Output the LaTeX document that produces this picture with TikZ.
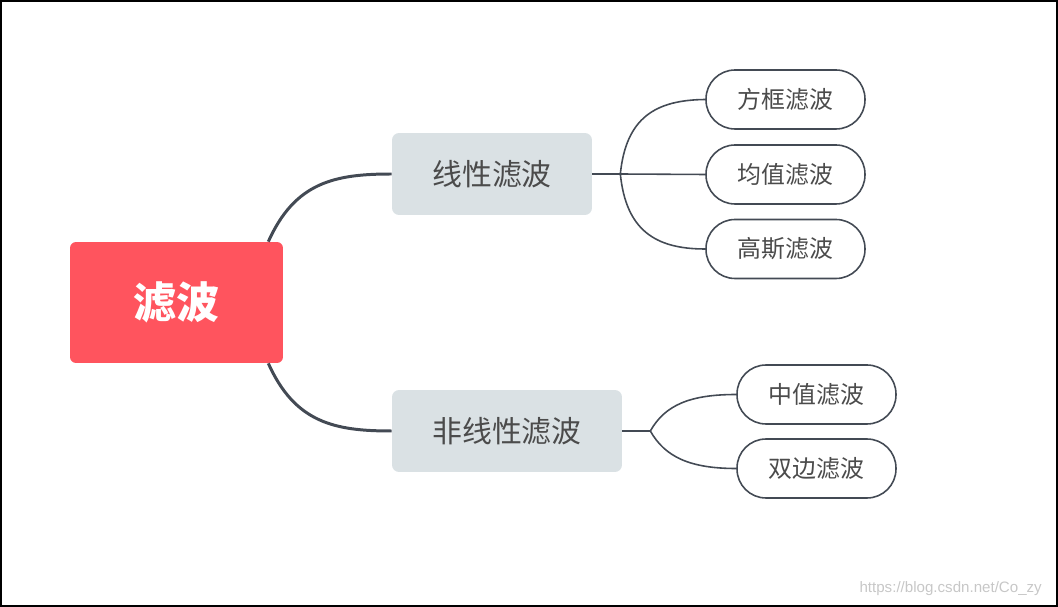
\documentclass[tikz,border=0pt]{standalone}
\usepackage{fontspec}
\usepackage{tikz}
\usetikzlibrary{calc}
\newfontfamily\cjk{Noto Sans CJK SC}
\newfontfamily\wmfont{Liberation Sans}
\definecolor{rootRed}{RGB}{255,84,94}
\definecolor{branchGray}{RGB}{218,225,228}
\definecolor{linkGray}{RGB}{67,74,84}
\definecolor{textGray}{RGB}{75,75,75}

\begin{document}
\begin{tikzpicture}[x=0.02cm,y=-0.02cm,%%
  rootStyle/.style={fill=rootRed,rounded corners=0.12cm,minimum width=4.26cm,
    minimum height=2.42cm,text=white,font=\cjk\bfseries\fontsize{24.5}{28}\selectfont},%%
  branchStyle/.style={fill=branchGray,rounded corners=0.14cm,minimum height=1.64cm,
    text=textGray,font=\cjk\fontsize{17}{20}\selectfont},%%
  leafStyle/.style={draw=linkGray,line width=0.9pt,fill=white,rounded corners=0.58cm,
    minimum width=3.18cm,minimum height=1.18cm,text=textGray,
    font=\cjk\fontsize{13.6}{16}\selectfont},%%
  thickLink/.style={draw=linkGray,line width=1.7pt},%%
  thinLink/.style={draw=linkGray,line width=0.9pt}%%
]
%%
%% Page and frame.
\useasboundingbox (0,0) rectangle (1058,607);
\draw[line width=1.1pt] (1,1) rectangle (1057,606);
%%
%% The root.
\node[rootStyle] (root) at (176.5,302.5) {滤波};
%%
%% The two branches.
\node[branchStyle,minimum width=4cm] (linear) at (492,174) {线性滤波};
\node[branchStyle,minimum width=4.6cm] (nonlinear) at (507,431) {非线性滤波};
%%
%% Leaves of the linear branch.
\node[leafStyle] (box) at (785.5,99.5) {方框滤波};
\node[leafStyle] (mean) at (785.5,174.5) {均值滤波};
\node[leafStyle] (gauss) at (785.5,249) {高斯滤波};
%%
%% Leaves of the nonlinear branch.
\node[leafStyle] (median) at (816.5,394.5) {中值滤波};
\node[leafStyle] (bilateral) at (816.5,468.5) {双边滤波};
%%
%% Root to branches.
\coordinate (rootTop) at ($(root.north east)+(-15,0)$);
\coordinate (rootBottom) at ($(root.south east)+(-15,0)$);
\draw[thickLink] (rootTop) .. controls (295,182) and (335,174) .. (linear.west);
\draw[thickLink] (rootBottom) .. controls (295,423) and (335,431) .. (nonlinear.west);
%%
%% Linear branch to its leaves.
\coordinate (linearFork) at ($(linear.east)+(28,0)$);
\draw[thickLink,line width=1.2pt] (linear.east) -- (linearFork);
\draw[thinLink] (linearFork) .. controls (626,118) and (655,100) .. (box.west);
\draw[thinLink] (linearFork) -- (mean.west);
\draw[thinLink] (linearFork) .. controls (626,230) and (655,249) .. (gauss.west);
%%
%% Nonlinear branch to its leaves.
\coordinate (nonlinearFork) at ($(nonlinear.east)+(28,0)$);
\draw[thickLink,line width=1.2pt] (nonlinear.east) -- (nonlinearFork);
\draw[thinLink] (nonlinearFork) .. controls (665,405) and (690,394.5) .. (median.west);
\draw[thinLink] (nonlinearFork) .. controls (665,457) and (690,468.5) .. (bilateral.west);
%%
%% Watermark.
\node[text=black!22,font=\wmfont\fontsize{8.6}{10}\selectfont,anchor=east] (mark) at (1048,589) {https://blog.csdn.net/Co\_zy};
\end{tikzpicture}
\end{document}
